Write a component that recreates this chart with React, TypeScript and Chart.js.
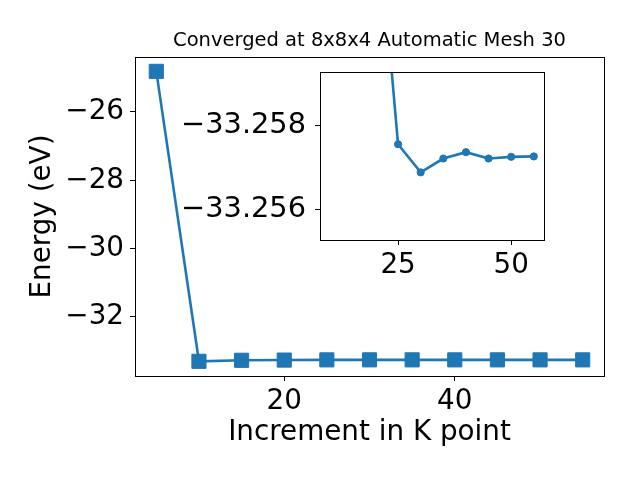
import React, { useEffect, useRef } from 'react';
import { Chart, registerables } from 'chart.js';

Chart.register(...registerables);

// ---- data ----
const kPoints = [5, 10, 15, 20, 25, 30, 35, 40, 45, 50, 55];
const energies = [
  -24.81, -33.3, -33.27, -33.2637, -33.25755, -33.25688, -33.25721, -33.25736, -33.25721, -33.25725, -33.25726,
];
const mainXTicks = [20, 40];
const mainYTicks = [-26, -28, -30, -32];
const insetXTicks = [25, 50];
const insetYTicks = [-33.258, -33.256];
const titleText = 'Converged at 8x8x4 Automatic Mesh 30';
const xLabel = 'Increment in K point';
const yLabel = 'Energy (eV)';

const BLUE = '#1f77b4';
const FONT = "'DejaVu Sans', sans-serif";
const TICK_SIZE = 27.8;
const INSET_TICK_SIZE = 28.8;

const fmt = (v: number, d: number) => {
  const s = Math.abs(v).toFixed(d);
  return v < 0 ? '\u2212' + s : s;
};

const setTicks = (arr: number[]) => (scale: any) => {
  scale.ticks = arr.map((v) => ({ value: v }));
};

const fixSize = (size: number, horizontal: boolean) => (scale: any) => {
  if (horizontal) scale.height = size;
  else scale.width = size;
  scale.paddingLeft = 0;
  scale.paddingRight = 0;
  scale.paddingTop = 0;
  scale.paddingBottom = 0;
};

const gridOpts = {
  drawOnChartArea: false,
  drawTicks: true,
  tickLength: 5,
  color: '#000',
  lineWidth: 1,
};

const makeFramePlugin = (fillWholeCanvas: boolean) => ({
  id: 'frame',
  beforeDraw(chart: any) {
    const { ctx, chartArea } = chart;
    ctx.save();
    ctx.fillStyle = '#fff';
    if (fillWholeCanvas) ctx.fillRect(0, 0, chart.width, chart.height);
    else ctx.fillRect(chartArea.left, chartArea.top, chartArea.right - chartArea.left, chartArea.bottom - chartArea.top);
    ctx.restore();
  },
  afterDatasetsDraw(chart: any) {
    const { ctx, chartArea } = chart;
    ctx.save();
    ctx.strokeStyle = '#000';
    ctx.lineWidth = 1;
    ctx.strokeRect(
      chartArea.left + 0.5,
      chartArea.top + 0.5,
      chartArea.right - chartArea.left,
      chartArea.bottom - chartArea.top
    );
    ctx.restore();
  },
});

export default function App() {
  const mainRef = useRef<HTMLCanvasElement>(null);
  const insetRef = useRef<HTMLCanvasElement>(null);

  useEffect(() => {
    const mainData = kPoints.map((x, i) => ({ x, y: energies[i] }));
    const insetData = kPoints.slice(1).map((x, i) => ({ x, y: energies[i + 1] }));

    const main = new Chart(mainRef.current as HTMLCanvasElement, {
      type: 'line',
      data: {
        datasets: [
          {
            data: mainData,
            borderColor: BLUE,
            backgroundColor: BLUE,
            borderWidth: 2.6,
            pointStyle: 'rect',
            pointRadius: 10,
            pointBorderWidth: 1,
            pointBackgroundColor: BLUE,
            pointBorderColor: BLUE,
            tension: 0,
          },
        ],
      },
      options: {
        responsive: false,
        animation: false,
        events: [],
        layout: { padding: { left: 0, right: 36, top: 0, bottom: 0 } },
        plugins: {
          legend: { display: false },
          tooltip: { enabled: false },
          title: {
            display: true,
            text: titleText,
            fullSize: false,
            color: '#000',
            font: { family: FONT, size: 19.5, weight: 'normal', lineHeight: 1.2 },
            padding: { top: 29, bottom: 4.6 },
          },
        },
        scales: {
          x: {
            type: 'linear',
            min: 2.5,
            max: 57.5,
            afterBuildTicks: setTicks(mainXTicks),
            afterFit: fixSize(104, true),
            grid: gridOpts,
            border: { display: false },
            ticks: {
              autoSkip: false,
              maxRotation: 0,
              padding: 4,
              color: '#000',
              font: { family: FONT, size: TICK_SIZE },
              callback: (v: any) => fmt(Number(v), 0),
            },
            title: {
              display: true,
              text: xLabel,
              color: '#000',
              font: { family: FONT, size: TICK_SIZE, lineHeight: 1.2 },
              padding: { top: 0, bottom: 30.6 },
            },
          },
          y: {
            type: 'linear',
            min: -33.73,
            max: -24.39,
            afterBuildTicks: setTicks(mainYTicks),
            afterFit: fixSize(135, false),
            grid: gridOpts,
            border: { display: false },
            ticks: {
              autoSkip: false,
              padding: 6,
              color: '#000',
              font: { family: FONT, size: TICK_SIZE },
              callback: (v: any) => fmt(Number(v), 0),
            },
            title: {
              display: true,
              text: yLabel,
              color: '#000',
              font: { family: FONT, size: TICK_SIZE, lineHeight: 1.2 },
              padding: { top: 26.3, bottom: 0 },
            },
          },
        },
      } as any,
      plugins: [makeFramePlugin(true)],
    });

    const inset = new Chart(insetRef.current as HTMLCanvasElement, {
      type: 'line',
      data: {
        datasets: [
          {
            data: insetData,
            borderColor: BLUE,
            backgroundColor: BLUE,
            borderWidth: 2.6,
            pointStyle: 'circle',
            pointRadius: 3.6,
            pointBorderWidth: 1,
            pointBackgroundColor: BLUE,
            pointBorderColor: BLUE,
            tension: 0,
            clip: 0,
          },
        ],
      },
      options: {
        responsive: false,
        animation: false,
        events: [],
        layout: { padding: { left: 0, right: 16, top: 22, bottom: 0 } },
        plugins: {
          legend: { display: false },
          tooltip: { enabled: false },
          title: { display: false },
        },
        scales: {
          x: {
            type: 'linear',
            min: 7.75,
            max: 57.25,
            afterBuildTicks: setTicks(insetXTicks),
            afterFit: fixSize(50, true),
            grid: gridOpts,
            border: { display: false },
            ticks: {
              autoSkip: false,
              maxRotation: 0,
              padding: 4,
              color: '#000',
              font: { family: FONT, size: TICK_SIZE },
              callback: (v: any) => fmt(Number(v), 0),
            },
          },
          y: {
            type: 'linear',
            reverse: true,
            min: -33.25927,
            max: -33.25527,
            afterBuildTicks: setTicks(insetYTicks),
            afterFit: fixSize(160, false),
            grid: gridOpts,
            border: { display: false },
            ticks: {
              autoSkip: false,
              padding: 9,
              color: '#000',
              font: { family: FONT, size: INSET_TICK_SIZE },
              callback: (v: any) => fmt(Number(v), 3),
            },
          },
        },
      } as any,
      plugins: [makeFramePlugin(false)],
    });

    return () => {
      main.destroy();
      inset.destroy();
    };
  }, []);

  return (
    <div style={{ position: 'fixed', left: 0, top: 0, width: 640, height: 480, background: '#fff' }}>
      <canvas
        ref={mainRef}
        width={640}
        height={480}
        style={{ position: 'absolute', left: 0, top: 0, width: 640, height: 480 }}
      />
      <canvas
        ref={insetRef}
        width={400}
        height={240}
        style={{ position: 'absolute', left: 160, top: 50, width: 400, height: 240 }}
      />
    </div>
  );
}
